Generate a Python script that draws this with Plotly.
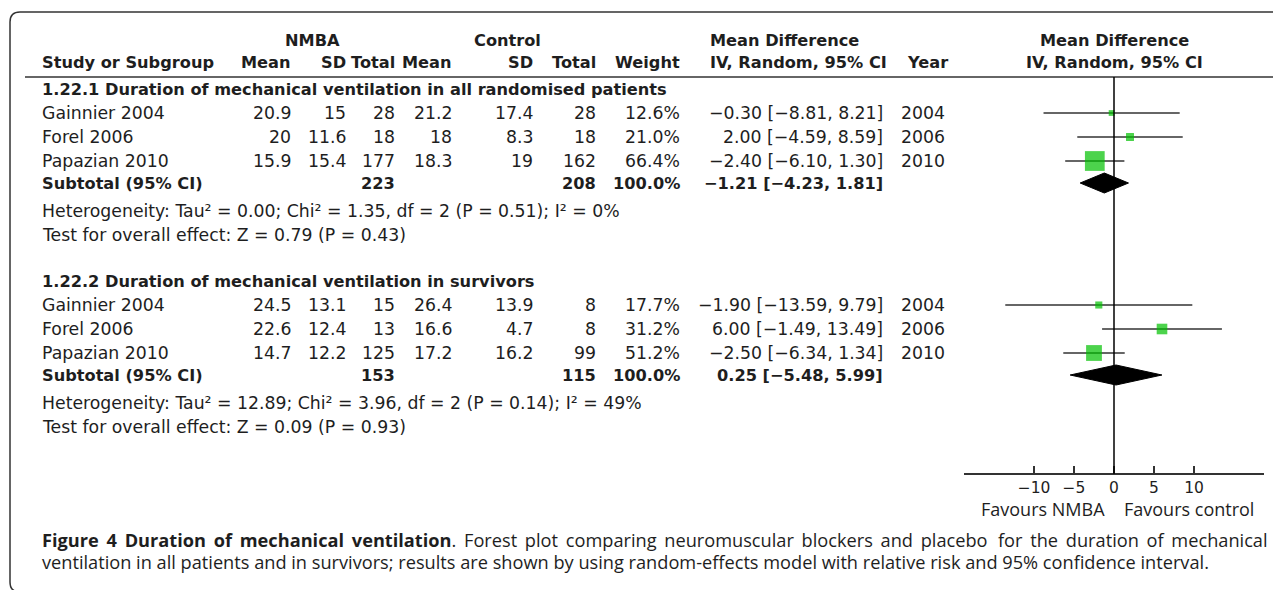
import plotly.graph_objects as go

W, H = 1281, 590
PAD = 8  # default page margin of the html body

# ---------------- data ----------------
studies = ["Gainnier 2004", "Forel 2006", "Papazian 2010"]
years = [2004, 2006, 2010]

g1_nmba_mean = [20.9, 20, 15.9]
g1_nmba_sd = [15, 11.6, 15.4]
g1_nmba_n = [28, 18, 177]
g1_ctrl_mean = [21.2, 18, 18.3]
g1_ctrl_sd = [17.4, 8.3, 19]
g1_ctrl_n = [28, 18, 162]
g1_weight = [12.6, 21.0, 66.4]
g1_md = [-0.30, 2.00, -2.40]
g1_lo = [-8.81, -4.59, -6.10]
g1_hi = [8.21, 8.59, 1.30]

g2_nmba_mean = [24.5, 22.6, 14.7]
g2_nmba_sd = [13.1, 12.4, 12.2]
g2_nmba_n = [15, 13, 125]
g2_ctrl_mean = [26.4, 16.6, 17.2]
g2_ctrl_sd = [13.9, 4.7, 16.2]
g2_ctrl_n = [8, 8, 99]
g2_weight = [17.7, 31.2, 51.2]
g2_md = [-1.90, 6.00, -2.50]
g2_lo = [-13.59, -1.49, -6.34]
g2_hi = [9.79, 13.49, 1.34]

section_titles = ["1.22.1 Duration of mechanical ventilation in all randomised patients",
                  "1.22.2 Duration of mechanical ventilation in survivors"]
sub_nmba_n = [223, 153]
sub_ctrl_n = [208, 115]
sub_md = [-1.21, 0.25]
sub_lo = [-4.23, -5.48]
sub_hi = [1.81, 5.99]
het_tau2 = [0.00, 12.89]
het_chi2 = [1.35, 3.96]
het_df = [2, 2]
het_p = [0.51, 0.14]
het_i2 = [0, 49]
z_val = [0.79, 0.09]
z_p = [0.43, 0.93]

tick_vals = [-10, -5, 0, 5, 10]
x_range = [-18.75, 18.75]

caption_title = "Figure 4 Duration of mechanical ventilation"
caption_line1a = ". Forest plot comparing neuromuscular blockers and placebo"
caption_line1b = "for the duration of mechanical"
caption_line2 = ("ventilation in all patients and in survivors; results are shown by using random-effects "
                 "model with relative risk and 95% confidence interval.")

# ---------------- style / layout ----------------
TXT = "#1e1e1e"
LINE = "#333333"
GREEN = "#00c000"
TF = "DejaVu Sans"
CF = "Open Sans"
FS = 17.3      # regular table text
FSB = 16.2     # bold table text
CAPFS = 18.2
JUST = " \u2009"  # widened inter-word gap for the justified first caption line

group_offset = 192
row_sec = 89
row_studies = [113, 137, 161]
row_sub = 183
row_het = 211
row_test = 235
axis_y = 474

col_name = 40
col_right = dict(nm=293, nsd=348, nn=397, cm=454, csd=535, cn=598, w=682, ci=885, yr=947)

annotations = []


def txt(x, y, s, anchor="right", bold=False, size=None, family=TF):
    if size is None:
        size = FSB if bold else FS
    if bold:
        s = "<b>" + s + "</b>"
    annotations.append(dict(x=x, y=y, xref="x2", yref="y", text=s, showarrow=False,
                            xanchor=anchor, yanchor="middle",
                            font=dict(family=family, size=size, color=TXT)))


def num(v):
    return f"{v:g}"


def mdfmt(m, l, h):
    return f"{m:.2f} [{l:.2f}, {h:.2f}]".replace("-", "\u2212")


# header
txt(312, 40, "NMBA", "center", True)
txt(507, 40, "Control", "center", True)
txt(708, 40, "Mean Difference", "left", True)
txt(1114, 40, "Mean Difference", "center", True)
txt(col_name, 62, "Study or Subgroup", "left", True)
txt(col_right["nm"], 62, "Mean", "right", True)
txt(col_right["nsd"], 62, "SD", "right", True)
txt(col_right["nn"], 62, "Total", "right", True)
txt(col_right["cm"], 62, "Mean", "right", True)
txt(col_right["csd"], 62, "SD", "right", True)
txt(col_right["cn"], 62, "Total", "right", True)
txt(col_right["w"], 62, "Weight", "right", True)
txt(708, 62, "IV, Random, 95% CI", "left", True)
txt(950, 62, "Year", "right", True)
txt(1114, 62, "IV, Random, 95% CI", "center", True)

groups = [
    (g1_nmba_mean, g1_nmba_sd, g1_nmba_n, g1_ctrl_mean, g1_ctrl_sd, g1_ctrl_n, g1_weight, g1_md, g1_lo, g1_hi),
    (g2_nmba_mean, g2_nmba_sd, g2_nmba_n, g2_ctrl_mean, g2_ctrl_sd, g2_ctrl_n, g2_weight, g2_md, g2_lo, g2_hi),
]

fig = go.Figure()

for gi, (nm, nsd, nn, cm, csd, cn, wt, md, lo, hi) in enumerate(groups):
    off = gi * group_offset
    txt(col_name, row_sec + off, section_titles[gi], "left", True)
    ys = [r + off for r in row_studies]
    for i, y in enumerate(ys):
        txt(col_name, y, studies[i], "left")
        txt(col_right["nm"], y, num(nm[i]))
        txt(col_right["nsd"], y, num(nsd[i]))
        txt(col_right["nn"], y, num(nn[i]))
        txt(col_right["cm"], y, num(cm[i]))
        txt(col_right["csd"], y, num(csd[i]))
        txt(col_right["cn"], y, num(cn[i]))
        txt(col_right["w"], y, f"{wt[i]:.1f}%")
        txt(col_right["ci"], y, mdfmt(md[i], lo[i], hi[i]))
        txt(col_right["yr"], y, str(years[i]))
    ysub = row_sub + off
    txt(col_name, ysub, "Subtotal (95% CI)", "left", True)
    txt(col_right["nn"], ysub, num(sub_nmba_n[gi]), "right", True)
    txt(col_right["cn"], ysub, num(sub_ctrl_n[gi]), "right", True)
    txt(col_right["w"], ysub, "100.0%", "right", True)
    txt(col_right["ci"], ysub, mdfmt(sub_md[gi], sub_lo[gi], sub_hi[gi]), "right", True)
    het = (f"Heterogeneity: Tau\u00b2 = {het_tau2[gi]:.2f}; Chi\u00b2 = {het_chi2[gi]:.2f}, "
           f"df = {het_df[gi]} (P = {het_p[gi]:.2f}); I\u00b2 = {het_i2[gi]}%")
    txt(col_name, row_het + off, het, "left")
    txt(col_name, row_test + off, f"Test for overall effect: Z = {z_val[gi]:.2f} (P = {z_p[gi]:.2f})", "left")

    # study squares with CI lines
    fig.add_trace(go.Scatter(
        x=md, y=ys, mode="markers", xaxis="x", yaxis="y", showlegend=False, hoverinfo="skip",
        marker=dict(symbol="square", size=[2.5 + 0.26 * w for w in wt], color=GREEN,
                    line=dict(width=0)),
        error_x=dict(type="data", symmetric=False,
                     array=[h - m for h, m in zip(hi, md)],
                     arrayminus=[m - l for m, l in zip(md, lo)],
                     width=0, thickness=1.5, color=LINE),
    ))
    # pooled diamond
    dh = 10
    fig.add_trace(go.Scatter(
        x=[sub_lo[gi], sub_md[gi], sub_hi[gi], sub_md[gi], sub_lo[gi]],
        y=[ysub, ysub - dh, ysub, ysub + dh, ysub],
        mode="lines", fill="toself", fillcolor="black", line=dict(color="black", width=1),
        xaxis="x", yaxis="y", showlegend=False, hoverinfo="skip",
    ))

# dummy trace to create the full-page overlay subplot
fig.add_trace(go.Scatter(x=[None], y=[None], xaxis="x2", yaxis="y", showlegend=False))

# favours labels & caption
txt(1107, 509, "Favours NMBA", "right", size=18, family=CF)
txt(1122, 509, "Favours control", "left", size=18, family=CF)
txt(40, 540, "<b>" + caption_title.replace(" ", JUST) + "</b>" + caption_line1a.replace(" ", JUST),
    "left", size=CAPFS, family=CF)
txt(1270, 540, caption_line1b.replace(" ", JUST), "right", size=CAPFS, family=CF)
txt(40, 562, caption_line2, "left", size=CAPFS, family=CF)

shapes = [
    # rounded, open-right frame
    dict(type="path", xref="x2", yref="y",
         path="M 1290,12 L 20,12 Q 10,12 10,22 L 10,582 Q 10,592 20,592",
         line=dict(color=LINE, width=1.5)),
    # header rule
    dict(type="line", xref="x2", yref="y", x0=25, x1=1290, y0=77, y1=77,
         line=dict(color=LINE, width=1.5)),
    # line of no effect
    dict(type="line", xref="x", yref="y", x0=0, x1=0, y0=77, y1=axis_y,
         line=dict(color="black", width=1.5)),
]

FW, FH = W - PAD, H - PAD
fig.update_layout(
    width=FW, height=FH, margin=dict(l=0, r=0, t=0, b=0),
    paper_bgcolor="white", plot_bgcolor="rgba(0,0,0,0)",
    showlegend=False,
    annotations=annotations, shapes=shapes,
    xaxis=dict(domain=[(964 - PAD) / FW, (1264 - PAD) / FW], range=x_range, anchor="free",
               position=(H - axis_y) / FH, showline=True, linecolor=LINE, linewidth=1.5,
               ticks="inside", ticklen=7, tickwidth=1.5, tickcolor=LINE,
               tickvals=tick_vals, tickfont=dict(family=TF, size=15.5, color=TXT),
               showgrid=False, zeroline=False, fixedrange=True),
    xaxis2=dict(domain=[0, 1], range=[PAD, W], anchor="y", visible=False, fixedrange=True),
    yaxis=dict(domain=[0, 1], range=[H, PAD], visible=False, fixedrange=True),
)

fig.write_html("out.html")
